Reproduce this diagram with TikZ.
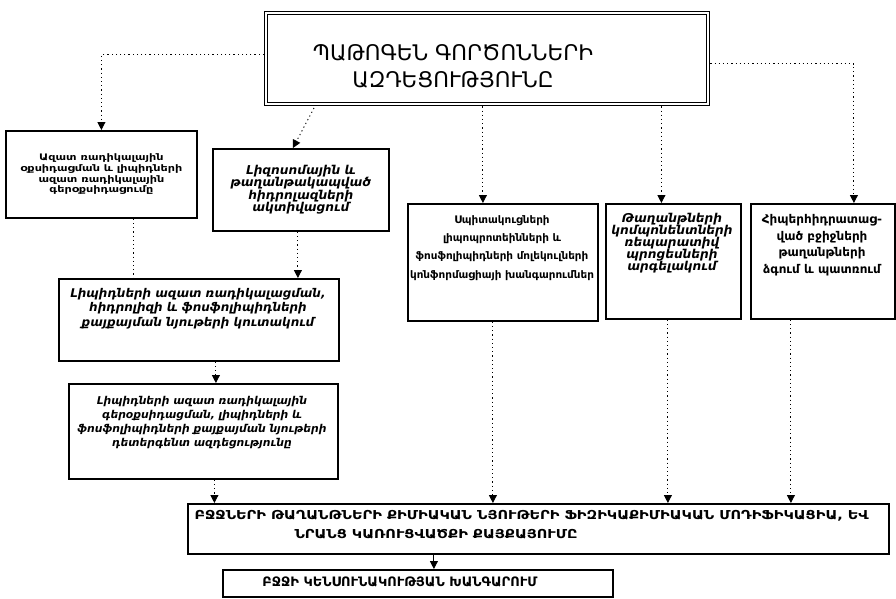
\documentclass[tikz,border=0pt]{standalone}
\usepackage{fontspec}
\setmainfont{DejaVu Sans}
\usetikzlibrary{arrows.meta}
\begin{document}
\begin{tikzpicture}[x=1pt,y=-1pt,
  frame/.style={draw, line width=1.8pt, inner sep=2pt, align=center, anchor=north west},
  inbox/.style={align=center, anchor=north, inner sep=0pt},
  conn/.style={line width=0.9pt, dash pattern=on 1.2pt off 3pt, -{Triangle[width=8pt,length=8pt]}},
  link/.style={line width=0.9pt, dash pattern=on 1.2pt off 3pt},
]
\useasboundingbox (0,0) rectangle (896,598);

% heading with a double frame
\node[draw, line width=1.3pt, anchor=north west,
      minimum width=445, minimum height=94] (title) at (264,11) {};
\draw[line width=1.1pt] ([shift={(3.5pt,3.5pt)}]title.south west)
  rectangle ([shift={(-3.5pt,-3.5pt)}]title.north east);
\node[font=\fontsize{21.5}{27}\selectfont, align=center] (titletext) at (453,66)
  {ՊԱԹՈԳԵՆ ԳՈՐԾՈՆՆԵՐԻ\\ԱԶԴԵՑՈՒԹՅՈՒՆԸ};

% first row
\node[frame, minimum width=191, minimum height=87,
      font=\bfseries\fontsize{9}{10.6}\selectfont\addfontfeature{FakeStretch=1.25}] (b1) at (5,130)
  {Ազատ ռադիկալային\\օքսիդացման և լիպիդների\\ազատ ռադիկալային\\գերօքսիդացումը};
\node[frame, minimum width=176, minimum height=82,
      font=\bfseries\itshape\fontsize{12.2}{12.5}\selectfont] (b2) at (212,148)
  {Լիզոսոմային և\\թաղանթակապված\\հիդրոլազների\\ակտիվացում};

\node[frame, minimum width=190, minimum height=117] (b3) at (407,203) {};
\node[inbox, font=\bfseries\fontsize{10.4}{18.3}\selectfont] (b3t) at (502,215)
  {Սպիտակուցների\\լիպոպրոտեինների և\\ֆոսֆոլիպիդների մոլեկուլների\\կոնֆորմացիայի խանգարումներ};
\node[frame, minimum width=135, minimum height=115] (b4) at (605,203) {};
\node[inbox, font=\bfseries\itshape\fontsize{12.2}{12}\selectfont] (b4t) at (672,213)
  {Թաղանթների\\կոմպոնենտների\\ռեպարատիվ\\պրոցեսների\\արգելակում};
\node[frame, minimum width=144, minimum height=115] (b5) at (750,203) {};
\node[inbox, font=\bfseries\fontsize{12}{16.7}\selectfont] (b5t) at (822,214)
  {Հիպերհիդրատաց-\\ված բջիջների\\թաղանթների\\ձգում և պատռում};

% left column
\node[frame, minimum width=280, minimum height=82] (b6) at (58,278) {};
\node[inbox, font=\bfseries\itshape\fontsize{12}{14.5}\selectfont] (b6t) at (198,288)
  {Լիպիդների ազատ ռադիկալացման,\\հիդրոլիզի և ֆոսֆոլիպիդների\\քայքայման նյութերի կուտակում};
\node[frame, minimum width=269, minimum height=95] (b7) at (68,383) {};
\node[inbox, font=\bfseries\itshape\fontsize{10.8}{14}\selectfont] (b7t) at (202,396)
  {Լիպիդների ազատ ռադիկալային\\գերօքսիդացման, լիպիդների և\\ֆոսֆոլիպիդների քայքայման նյութերի\\դետերգենտ ազդեցությունը};

% outcome
\node[frame, minimum width=701, minimum height=50] (A) at (187,503) {};
\node[font=\bfseries\fontsize{12.3}{19}\selectfont\addfontfeature{FakeStretch=1.18},
      align=left, anchor=north west] (At) at (191,507)
  {ԲՋՋՆԵՐԻ ԹԱՂԱՆԹՆԵՐԻ ՔԻՄԻԱԿԱՆ ՆՅՈՒԹԵՐԻ ՖԻԶԻԿԱՔԻՄԻԱԿԱՆ ՄՈԴԻՖԻԿԱՑԻԱ, ԵՎ\\
   \hspace*{100pt}ՆՐԱՆՑ ԿԱՌՈՒՑՎԱԾՔԻ ՔԱՅՔԱՅՈՒՄԸ};
\node[frame, minimum width=390, minimum height=27] (B) at (222,569) {};
\node[font=\bfseries\fontsize{13}{15}\selectfont] (Bt) at (400,582)
  {ԲՋՋԻ ԿԵՆՍՈՒՆԱԿՈՒԹՅԱՆ ԽԱՆԳԱՐՈՒՄ};

% connectors from the heading
\draw[conn] ([yshift=4pt]title.west) -| (b1.north);
\coordinate (d2) at (314,108);
\draw[conn] (d2) -- ([xshift=-8pt]b2.north);
\draw[conn] ([xshift=-20pt]b3.north |- title.south) -- ([xshift=-20pt]b3.north);
\draw[conn] ([xshift=-12pt]b4.north |- title.south) -- ([xshift=-12pt]b4.north);
\draw[conn] ([yshift=-5pt]title.east) -| ([xshift=31pt]b5.north);

% left column links
\draw[link] ([xshift=32pt]b1.south) -- ([xshift=32pt]b1.south |- b6.north);
\draw[conn] ([xshift=-3pt]b2.south) -- ([xshift=-3pt]b2.south |- b6.north);
\draw[conn] ([xshift=17pt]b6.south) -- ([xshift=17pt]b6.south |- b7.north);

% links into the outcome box
\draw[conn] ([xshift=11pt]b7.south) -- ([xshift=11pt]b7.south |- A.north);
\draw[conn] ([xshift=-10pt]b3.south) -- ([xshift=-10pt]b3.south |- A.north);
\draw[conn] ([xshift=-5.5pt]b4.south) -- ([xshift=-5.5pt]b4.south |- A.north);
\draw[conn] ([xshift=-32pt]b5.south) -- ([xshift=-32pt]b5.south |- A.north);
\draw[line width=0.9pt, -{Triangle[width=8pt,length=8pt]}]
  ([xshift=16pt]B.north |- A.south) -- ([xshift=16pt]B.north);
\end{tikzpicture}
\end{document}
